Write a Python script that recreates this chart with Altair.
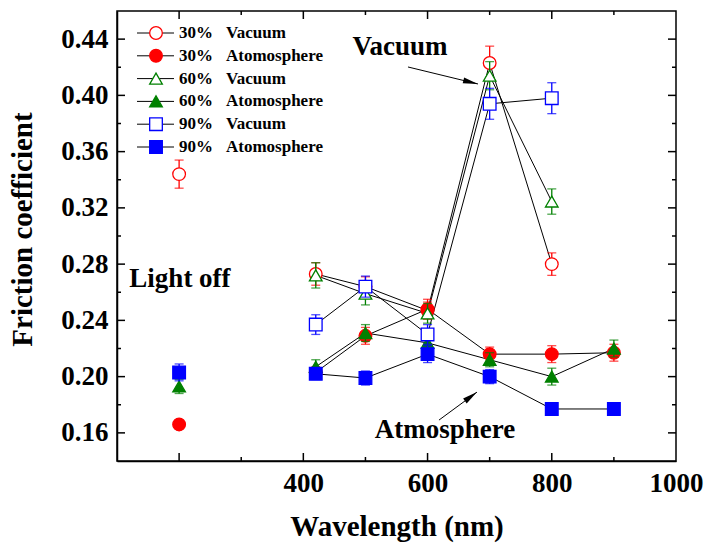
import math
import altair as alt
import pandas as pd

# ---------------- data ----------------
series_names = ["30% Vacuum", "30% Atomosphere", "60% Vacuum",
                "60% Atomosphere", "90% Vacuum", "90% Atomosphere"]
pct_labels = ["30%", "30%", "60%", "60%", "90%", "90%"]
cond_labels = ["Vacuum", "Atomosphere", "Vacuum", "Atomosphere", "Vacuum", "Atomosphere"]

wl_30v = [200, 420, 500, 600, 700, 800]
f_30v = [0.344, 0.273, 0.264, 0.247, 0.423, 0.280]
e_30v = [0.010, 0.008, 0.007, 0.006, 0.012, 0.008]

wl_30a = [200, 420, 500, 600, 700, 800, 900]
f_30a = [0.166, 0.203, 0.229, 0.248, 0.216, 0.216, 0.217]
e_30a = [0.003, 0.004, 0.006, 0.007, 0.005, 0.006, 0.006]

wl_60v = [420, 500, 600, 700, 800]
f_60v = [0.272, 0.259, 0.245, 0.414, 0.3245]
e_60v = [0.009, 0.008, 0.007, 0.010, 0.009]

wl_60a = [200, 420, 500, 600, 700, 800, 900]
f_60a = [0.193, 0.207, 0.231, 0.224, 0.212, 0.200, 0.220]
e_60a = [0.005, 0.005, 0.006, 0.005, 0.005, 0.006, 0.006]

wl_90v = [420, 500, 600, 700, 800]
f_90v = [0.237, 0.264, 0.230, 0.394, 0.398]
e_90v = [0.007, 0.0075, 0.007, 0.011, 0.011]

wl_90a = [200, 420, 500, 600, 700, 800, 900]
f_90a = [0.203, 0.202, 0.199, 0.216, 0.200, 0.177, 0.177]
e_90a = [0.006, 0.004, 0.005, 0.006, 0.005, 0.003, 0.003]

x_label_values = [400, 600, 800, 1000]
y_label_values = [0.16, 0.20, 0.24, 0.28, 0.32, 0.36, 0.40, 0.44]
x_major_ticks = [200, 400, 600, 800]
x_minor_ticks = [300, 500, 700, 900]
y_major_ticks = [0.16, 0.20, 0.24, 0.28, 0.32, 0.36, 0.40, 0.44]
y_minor_ticks = [0.18, 0.22, 0.26, 0.30, 0.34, 0.38, 0.42]

ann_text = ["Vacuum", "Light off", "Atmosphere"]
ann_x = [555.6, 201.4, 628.0]
ann_y = [0.4287, 0.2637, 0.1563]

arrow_x = [568.5, 618.4]
arrow_y = [0.4202, 0.1691]
arrow_x2 = [681.2, 679.6]
arrow_y2 = [0.4081, 0.1890]

# ---------------- styles ----------------
series_colors = ["#FF0000", "#FF0000", "#008000", "#008000", "#0000FF", "#0000FF"]
series_fills = ["white", "#FF0000", "white", "#008000", "white", "#0000FF"]
series_shapes = ["circle", "circle", "triangle-up", "triangle-up", "square", "square"]
series_sizes = [160, 160, 280, 280, 170, 170]

W, H = 559, 450
X0, X1 = 100, 1000
Y0, Y1 = 0.14, 0.46
FONT = "Liberation Serif"

series_data = {
    "30% Vacuum": (wl_30v, f_30v, e_30v),
    "30% Atomosphere": (wl_30a, f_30a, e_30a),
    "60% Vacuum": (wl_60v, f_60v, e_60v),
    "60% Atomosphere": (wl_60a, f_60a, e_60a),
    "90% Vacuum": (wl_90v, f_90v, e_90v),
    "90% Atomosphere": (wl_90a, f_90a, e_90a),
}
rows = []
for i, name in enumerate(series_names):
    wl, f, e = series_data[name]
    for w, v, er in zip(wl, f, e):
        rows.append({"series": name, "sidx": i, "wl": w, "f": v,
                     "lo": v - er, "hi": v + er})
df = pd.DataFrame(rows)

leg_df = pd.DataFrame({"series": series_names, "idx": list(range(6)),
                       "pct": pct_labels, "cond": cond_labels})
ann_df = pd.DataFrame({"text": ann_text, "x": ann_x, "y": ann_y})

kx = W / (X1 - X0)
ky = H / (Y1 - Y0)
angles = []
for a, b, c, d in zip(arrow_x, arrow_y, arrow_x2, arrow_y2):
    dx = (c - a) * kx
    dy = -(d - b) * ky
    angles.append(math.degrees(math.atan2(dx, -dy)) % 360)
arr_df = pd.DataFrame({"x": arrow_x, "y": arrow_y, "x2": arrow_x2,
                       "y2": arrow_y2, "ang": angles})

# ---------------- scales / axes ----------------
xscale = alt.Scale(domain=[X0, X1], nice=False, zero=False)
yscale = alt.Scale(domain=[Y0, Y1], nice=False, zero=False)
xaxis = alt.Axis(title="Wavelength (nm)", values=x_label_values, format="d",
                 ticks=False, grid=False, labelPadding=9, labelFlush=False,
                 titleY=74, titleBaseline="alphabetic")
yaxis = alt.Axis(title="Friction coefficient", values=y_label_values, format=".2f",
                 ticks=False, grid=False, labelPadding=9, labelFlush=False,
                 titleX=-86, titleY=218, titleBaseline="alphabetic")

color_scale = alt.Scale(domain=series_names, range=series_colors)
fill_scale = alt.Scale(domain=series_names, range=series_fills)
shape_scale = alt.Scale(domain=series_names, range=series_shapes)
size_scale = alt.Scale(domain=series_names, range=series_sizes)


def X(field):
    return alt.X(field, type="quantitative", scale=xscale, axis=xaxis)


def Y(field):
    return alt.Y(field, type="quantitative", scale=yscale, axis=yaxis)


col = alt.Color("series:N", scale=color_scale, legend=None)

layers = []
# lines (excluding the light-off points)
layers.append(
    alt.Chart(df).transform_filter("datum.wl >= 400")
    .mark_line(color="black", strokeWidth=1)
    .encode(x=X("wl"), y=Y("f"), detail="series:N", order="wl:Q")
)

for i, name in enumerate(series_names):
    base = alt.Chart(df).transform_filter(alt.datum.series == name)
    layers.append(base.mark_rule(strokeWidth=1.3).encode(
        x=X("wl"), y=Y("lo"), y2="hi", color=col))
    layers.append(base.mark_tick(orient="horizontal", size=9, thickness=1.3).encode(
        x=X("wl"), y=Y("lo"), color=col))
    layers.append(base.mark_tick(orient="horizontal", size=9, thickness=1.3).encode(
        x=X("wl"), y=Y("hi"), color=col))
    layers.append(base.mark_point(opacity=1, strokeWidth=1.3).encode(
        x=X("wl"), y=Y("f"), color=col,
        fill=alt.Fill("series:N", scale=fill_scale, legend=None),
        shape=alt.Shape("series:N", scale=shape_scale, legend=None),
        size=alt.Size("series:N", scale=size_scale, legend=None)))

# inner ticks
def xticks(vals, y0, y1):
    return alt.Chart(pd.DataFrame({"v": vals})).mark_rule(color="black", strokeWidth=1.5).encode(
        x=X("v"), y=alt.value(y0), y2=alt.value(y1))


def yticks(vals, x0, x1):
    return alt.Chart(pd.DataFrame({"v": vals})).mark_rule(color="black", strokeWidth=1.5).encode(
        y=Y("v"), x=alt.value(x0), x2=alt.value(x1))


layers += [
    xticks(x_major_ticks, H, H - 8), xticks(x_minor_ticks, H, H - 4),
    xticks(x_major_ticks, 0, 8), xticks(x_minor_ticks, 0, 4),
    yticks(y_major_ticks, 0, 8), yticks(y_minor_ticks, 0, 4),
    yticks(y_major_ticks, W, W - 8), yticks(y_minor_ticks, W, W - 4),
]

# annotations
layers.append(alt.Chart(ann_df).mark_text(font=FONT, fontWeight="bold", fontSize=27,
                                          align="center", baseline="alphabetic", color="black")
              .encode(x=X("x"), y=Y("y"), text="text:N"))
layers.append(alt.Chart(arr_df).mark_rule(color="black", strokeWidth=1)
              .encode(x=X("x"), y=Y("y"), x2="x2", y2="y2"))
layers.append(alt.Chart(arr_df).mark_point(shape="M0,0L-0.4,2L0.4,2Z", filled=True,
                                           color="black", opacity=1, size=225)
              .encode(x=X("x2"), y=Y("y2"), angle=alt.Angle("ang:Q", scale=None)))

main = alt.layer(*layers)

# manual legend
ly = alt.Y("idx:Q", scale=alt.Scale(domain=[0, 5], range=[22, 136]), axis=None)
leg_base = alt.Chart(leg_df)
legend = alt.layer(
    leg_base.mark_rule(color="black", strokeWidth=1).encode(
        y=ly, x=alt.value(20), x2=alt.value(57)),
    leg_base.mark_point(opacity=1, strokeWidth=1.3).encode(
        y=ly, x=alt.value(39), color=col,
        fill=alt.Fill("series:N", scale=fill_scale, legend=None),
        shape=alt.Shape("series:N", scale=shape_scale, legend=None),
        size=alt.Size("series:N", scale=size_scale, legend=None)),
    leg_base.mark_text(font=FONT, fontWeight="bold", fontSize=17, align="left",
                       baseline="middle", color="black").encode(
        y=ly, x=alt.value(62), text="pct:N"),
    leg_base.mark_text(font=FONT, fontWeight="bold", fontSize=17, align="left",
                       baseline="middle", color="black").encode(
        y=ly, x=alt.value(109), text="cond:N"),
)

chart = alt.layer(main, legend).resolve_scale(y="independent").properties(
    width=W, height=H,
    autosize=alt.AutoSizeParams(type="none"),
    padding={"left": 117, "top": 11, "right": 30, "bottom": 82},
    background="white",
).configure_view(stroke="black", strokeWidth=1.5).configure_axis(
    labelFont=FONT, labelFontWeight="bold", labelFontSize=27, labelColor="black",
    titleFont=FONT, titleFontWeight="bold", titleFontSize=29, titleColor="black",
    domainColor="black", domainWidth=1.5,
)

chart.save("out.html", embed_options={"renderer": "svg", "actions": False})
